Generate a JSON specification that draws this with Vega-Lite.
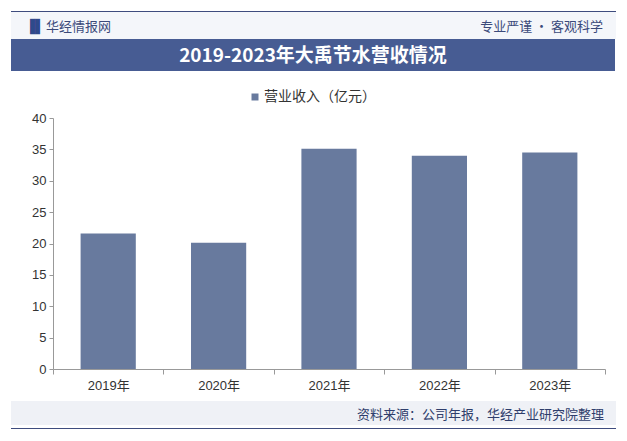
{
  "$schema": "https://vega.github.io/schema/vega-lite/v6.json",
  "background": "white",
  "padding": {"left": 11, "top": 11, "right": 11, "bottom": 0},
  "spacing": 0,
  "resolve": {"legend": {"color": "independent"}},
  "config": {
    "view": {"stroke": null},
    "font": "Liberation Sans, Noto Sans CJK SC",
    "legend": {"padding": 0}
  },
  "vconcat": [
    {
      "width": 605, "height": 1,
      "view": {"fill": "#3e4c7e", "stroke": null},
      "data": {"values": []},
      "mark": "text"
    },
    {
      "width": 605, "height": 27,
      "view": {"fill": "#f4f6fa", "stroke": null},
      "layer": [
        {
          "data": {"values": [{"label": "▐▌"}]},
          "mark": {"type": "text", "align": "left", "baseline": "middle", "dx": 14, "dy": 1.5, "fontSize": 13, "color": "#2f4a8a", "font": "DejaVu Sans"},
          "encoding": {"x": {"value": 0}, "text": {"field": "label"}}
        },
        {
          "data": {"values": [{"label": "华经情报网"}]},
          "mark": {"type": "text", "align": "left", "baseline": "middle", "dx": 35, "dy": 1.5, "fontSize": 13, "color": "#3b4a7a", "font": "Noto Sans CJK SC"},
          "encoding": {"x": {"value": 0}, "text": {"field": "label"}}
        },
        {
          "data": {"values": [{"label": "专业严谨 • 客观科学"}]},
          "mark": {"type": "text", "align": "right", "baseline": "middle", "dx": -13, "dy": 1.5, "fontSize": 13, "color": "#3b4a7a", "font": "Noto Sans CJK SC"},
          "encoding": {"x": {"value": "width"}, "text": {"field": "label"}}
        }
      ]
    },
    {
      "width": 604, "height": 32,
      "view": {"fill": "#475c93", "stroke": null},
      "data": {"values": [{"title": "2019-2023年大禹节水营收情况"}]},
      "mark": {"type": "text", "baseline": "middle", "dy": 1, "fontSize": 19, "fontWeight": "bold", "color": "white", "font": "Noto Sans CJK SC"},
      "encoding": {"text": {"field": "title"}}
    },
    {
      "width": 1, "height": 19,
      "data": {"values": []},
      "mark": "text"
    },
    {
      "width": 594, "height": 251,
      "data": {"values": [
        {"year": "2019年", "revenue": 21.6},
        {"year": "2020年", "revenue": 20.1},
        {"year": "2021年", "revenue": 35.1},
        {"year": "2022年", "revenue": 34.0},
        {"year": "2023年", "revenue": 34.5}
      ]},
      "mark": {"type": "bar", "width": {"band": 0.5}},
      "encoding": {
        "x": {
          "field": "year", "type": "nominal", "sort": null,
          "scale": {"paddingInner": 0, "paddingOuter": 0, "range": [42, 594]},
          "axis": {"title": null, "labelAngle": 0, "tickBand": "extent", "domainColor": "#999999", "tickColor": "#999999", "tickSize": 5, "labelPadding": 5, "labelFontSize": 13, "labelColor": "#333333", "minExtent": 32}
        },
        "y": {
          "field": "revenue", "type": "quantitative",
          "scale": {"domain": [0, 40]},
          "axis": {"title": null, "offset": -42, "values": [0, 5, 10, 15, 20, 25, 30, 35, 40], "grid": false, "domainColor": "#999999", "tickColor": "#999999", "tickSize": 4, "labelPadding": 3, "labelFontSize": 13, "labelColor": "#333333"}
        },
        "color": {
          "datum": "营业收入（亿元）", "type": "nominal",
          "scale": {"range": ["#687a9e"]},
          "legend": {"orient": "none", "legendX": 237, "legendY": -28, "title": null, "symbolType": "square", "symbolSize": 49, "labelFontSize": 14, "labelColor": "#333333", "labelOffset": 2, "labelFont": "Noto Sans CJK SC"}
        }
      }
    },
    {
      "width": 605, "height": 24,
      "view": {"fill": "#eff1f6", "stroke": null},
      "data": {"values": [{"source": "资料来源：公司年报，华经产业研究院整理"}]},
      "mark": {"type": "text", "align": "right", "baseline": "middle", "dx": -12, "dy": 2, "fontSize": 13, "color": "#2f3e6c", "font": "Noto Sans CJK SC"},
      "encoding": {"x": {"value": "width"}, "text": {"field": "source"}}
    },
    {
      "width": 1, "height": 3,
      "data": {"values": []},
      "mark": "text"
    },
    {
      "width": 605, "height": 1,
      "view": {"fill": "#3e4c7e", "stroke": null},
      "data": {"values": []},
      "mark": "text"
    }
  ]
}
